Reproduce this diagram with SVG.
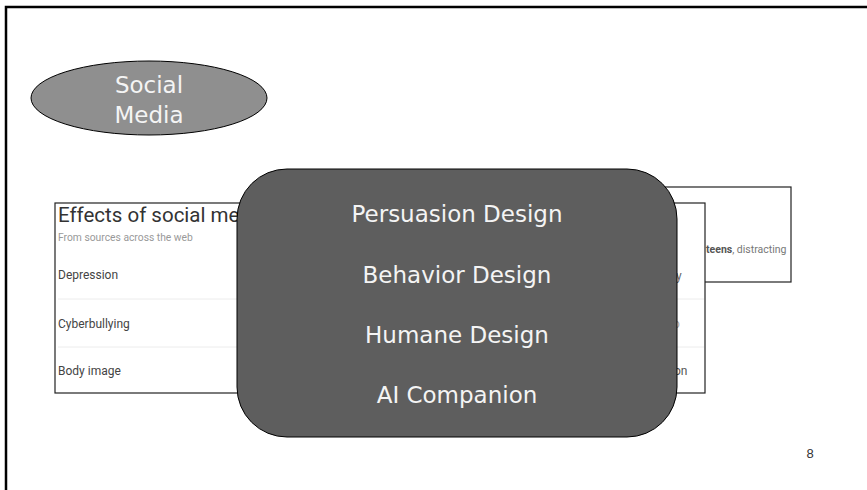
<svg xmlns="http://www.w3.org/2000/svg" width="867" height="490" viewBox="0 0 867 490">
<style>
.lbl{font-family:"DejaVu Sans","Liberation Sans",sans-serif;fill:#f4f4f4;text-anchor:middle;font-size:23px}
.shot{font-family:Roboto,"Liberation Sans",sans-serif}
.div{stroke:#ececec;stroke-width:1}
</style>
<rect width="867" height="490" fill="#ffffff"/>
<path d="M6,490 V7 H867" fill="none" stroke="#000" stroke-width="2.5"/>
<g id="social-media">
<ellipse cx="149" cy="98" rx="118" ry="37" fill="#8f8f8f" stroke="#000" stroke-width="1"/>
<text class="lbl" x="149" y="93">Social</text>
<text class="lbl" x="149" y="123">Media</text>
</g>
<g id="screenshot-back">
<rect x="600" y="187" width="191" height="95" fill="#fff" stroke="#222" stroke-width="1.2"/>
<text class="shot" x="706" y="253" font-size="10.5" fill="#777"><tspan font-weight="bold" fill="#555">teens</tspan>, distracting</text>
</g>
<g id="screenshot-front">
<rect x="55" y="203" width="650" height="190" fill="#fff" stroke="#222" stroke-width="1.2"/>
<text class="shot" x="58" y="222" font-size="20.5" fill="#333">Effects of social me</text>
<text class="shot" x="58" y="241" font-size="10.3" fill="#999">From sources across the web</text>
<text class="shot" x="58" y="279" font-size="12" fill="#444">Depression</text>
<line class="div" x1="58" y1="299" x2="704" y2="299"/>
<text class="shot" x="58" y="328" font-size="12" fill="#444">Cyberbullying</text>
<line class="div" x1="58" y1="347" x2="704" y2="347"/>
<text class="shot" x="58" y="375" font-size="12" fill="#444">Body image</text>
<text class="shot" x="676" y="280" font-size="12" fill="#666">y</text>
<text class="shot" x="673" y="328" font-size="12" fill="#aaa">o</text>
<text class="shot" x="674" y="375" font-size="12" fill="#555">on</text>
</g>
<g id="design-box">
<rect x="237" y="169" width="440" height="268" rx="50" ry="50" fill="#5e5e5e" stroke="#000" stroke-width="1"/>
<text class="lbl" x="457" y="222">Persuasion Design</text>
<text class="lbl" x="457" y="283">Behavior Design</text>
<text class="lbl" x="457" y="343">Humane Design</text>
<text class="lbl" x="457" y="403">AI Companion</text>
</g>
<g id="connectors"></g>
<text x="810" y="458" font-family="'Liberation Sans',sans-serif" font-size="13" fill="#333" text-anchor="middle">8</text>
</svg>
